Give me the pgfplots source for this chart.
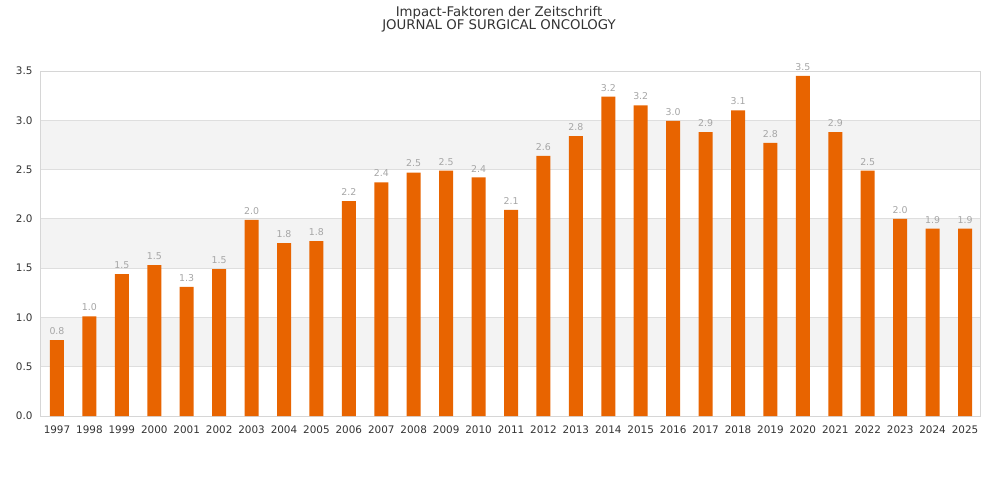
\documentclass[border=0pt]{standalone}
\usepackage{pgfplots}
\pgfplotsset{compat=1.18}
\usepackage{pgfplotstable}
\usepackage{fontspec}
\setmainfont{DejaVu Sans}
\definecolor{barc}{HTML}{E86400}
\definecolor{band}{HTML}{F3F3F3}
\definecolor{gridc}{HTML}{DEDEDE}
\definecolor{axc}{HTML}{D6D6D6}
\definecolor{lblc}{HTML}{A6A6A6}
\definecolor{txtc}{HTML}{333333}
\pgfplotstableread{
x y lab
0 0.77 0.8
1 1.01 1.0
2 1.44 1.5
3 1.53 1.5
4 1.31 1.3
5 1.49 1.5
6 1.99 2.0
7 1.755 1.8
8 1.775 1.8
9 2.18 2.2
10 2.37 2.4
11 2.47 2.5
12 2.49 2.5
13 2.42 2.4
14 2.09 2.1
15 2.64 2.6
16 2.84 2.8
17 3.24 3.2
18 3.15 3.2
19 2.995 3.0
20 2.88 2.9
21 3.10 3.1
22 2.77 2.8
23 3.45 3.5
24 2.88 2.9
25 2.49 2.5
26 2.00 2.0
27 1.90 1.9
28 1.90 1.9
}\barsdata
\begin{document}
\begin{tikzpicture}
\path[use as bounding box] (-40bp,-84bp) rectangle (960bp,416bp);
\begin{axis}[
  at={(0,0)}, anchor=south west,
  scale only axis, width=940bp, height=345bp,
  xmin=-0.524, xmax=28.462, ymin=0, ymax=3.5,
  xtick={0,...,28},
  xticklabels={1997,1998,1999,2000,2001,2002,2003,2004,2005,2006,2007,2008,2009,2010,2011,2012,2013,2014,2015,2016,2017,2018,2019,2020,2021,2022,2023,2024,2025},
  ytick={0,0.5,...,3.5},
  yticklabel style={/pgf/number format/fixed, /pgf/number format/fixed zerofill, /pgf/number format/precision=1, xshift=-4bp},
  /pgf/number format/assume math mode=true,
  major tick length=0pt,
  ymajorgrids, grid style={gridc, line width=0.8bp},
  axis line style={axc, line width=0.8bp},
  axis background/.style={path picture={
    \fill[band] ([yshift=49.2857bp]path picture bounding box.south west) rectangle ([yshift=98.5714bp]path picture bounding box.south east);
    \fill[band] ([yshift=147.857bp]path picture bounding box.south west) rectangle ([yshift=197.143bp]path picture bounding box.south east);
    \fill[band] ([yshift=246.429bp]path picture bounding box.south west) rectangle ([yshift=295.714bp]path picture bounding box.south east);
  }},
  tick label style={font=\fontsize{10.4bp}{12bp}\selectfont, text=txtc},
  xticklabel style={yshift=-6bp},
  point meta=explicit symbolic,
  nodes near coords,
  every node near coord/.style={font=\fontsize{9.4bp}{11bp}\selectfont, text=lblc, anchor=south, inner sep=0pt, yshift=5.2bp},
]
\addplot[ybar, bar width=14bp, fill=barc, draw=none] table[x=x, y=y, meta=lab] {\barsdata};
\end{axis}
\node[anchor=base, text=txtc, font=\fontsize{13.3bp}{15bp}\selectfont] at (459bp,399.5bp) {Impact-Faktoren der Zeitschrift};
\node[anchor=base, text=txtc, font=\fontsize{13.3bp}{15bp}\selectfont] at (459bp,386bp) {JOURNAL OF SURGICAL ONCOLOGY};
\end{tikzpicture}
\end{document}
